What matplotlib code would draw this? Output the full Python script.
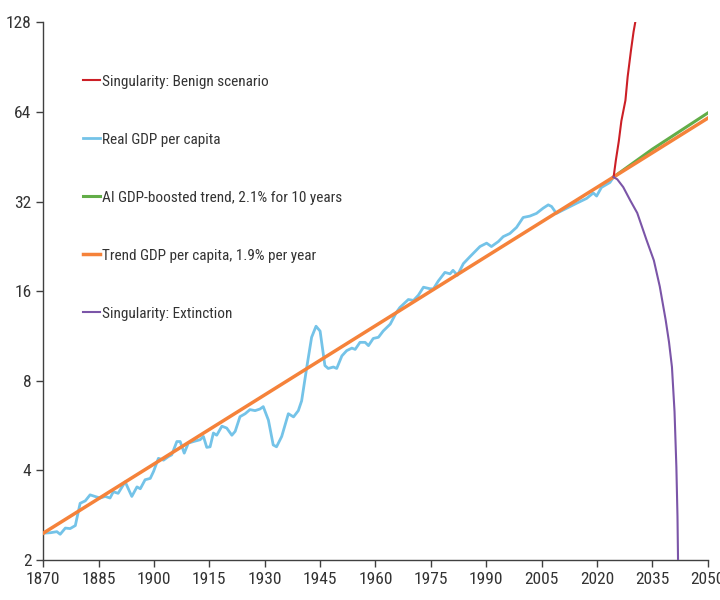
import matplotlib
matplotlib.use('Agg')
import matplotlib.pyplot as plt
from matplotlib.ticker import FixedLocator, NullLocator

plt.rcParams['font.family'] = ['Roboto Condensed', 'Liberation Sans', 'DejaVu Sans']

# Real GDP per capita
real_years = [1870, 1872, 1873.7, 1874.6, 1876, 1877.3, 1878.7, 1880, 1881.4, 1882.7,
              1884, 1885.4, 1886.8, 1888.1, 1889, 1890.3, 1892.2, 1894, 1895.4, 1896.3,
              1897.6, 1899, 1899.9, 1901.2, 1902.6, 1903.9, 1904.8, 1906.2, 1907.1, 1908.2,
              1909.3, 1910.7, 1912.5, 1913.4, 1914.3, 1915.2, 1916.1, 1917, 1918.4, 1919.7,
              1921.1, 1922, 1923.3, 1924.7, 1926, 1927.4, 1928.7, 1929.6, 1931, 1932.3,
              1933.2, 1934.6, 1936.4, 1937.8, 1939.1, 1940, 1941.4, 1942.7, 1943.9, 1945,
              1946.3, 1947.2, 1948.6, 1949.5, 1950.9, 1952.2, 1953.6, 1954.5, 1955.8, 1957.2,
              1958.1, 1959.4, 1960.8, 1962.1, 1964, 1965.7, 1966.6, 1968.9, 1970.3, 1971.6,
              1973, 1974.8, 1975.7, 1977, 1978.8, 1980.2, 1981, 1982.2, 1983.8, 1985.6,
              1988.3, 1990.1, 1991.4, 1993.3, 1994.6, 1996.4, 1998.2, 2000, 2001.8, 2003.6,
              2005.4, 2006.8, 2007.7, 2009, 2011.8, 2014.5, 2017.2, 2019, 2019.9, 2021.2,
              2023.5, 2024.5]
real_gdp = [2.46, 2.47, 2.49, 2.44, 2.56, 2.55, 2.61, 3.1, 3.16, 3.31,
            3.27, 3.23, 3.27, 3.23, 3.39, 3.35, 3.66, 3.27, 3.52, 3.47,
            3.72, 3.76, 3.97, 4.39, 4.33, 4.45, 4.51, 5.0, 5.0, 4.57,
            4.94, 5.0, 5.07, 5.2, 4.78, 4.8, 5.34, 5.25, 5.63, 5.55,
            5.25, 5.41, 6.06, 6.2, 6.4, 6.35, 6.43, 6.55, 5.9, 4.87,
            4.8, 5.2, 6.2, 6.05, 6.35, 6.85, 8.9, 11.2, 12.2, 11.75,
            9.0, 8.8, 8.9, 8.8, 9.7, 10.1, 10.3, 10.2, 10.77, 10.77,
            10.5, 11.1, 11.2, 11.76, 12.4, 13.6, 14.1, 15.0, 14.9, 15.5,
            16.5, 16.3, 16.3, 17.3, 18.5, 18.3, 18.8, 18.1, 19.8, 20.9,
            22.6, 23.2, 22.6, 23.5, 24.4, 25.0, 26.2, 28.3, 28.6, 29.2,
            30.4, 31.2, 30.8, 29.2, 30.4, 31.6, 32.8, 34.2, 33.4, 35.7,
            37.1, 38.7]

# Trend GDP per capita, 1.9% per year
trend_years = [1870, 2050]
trend_gdp = [2.46, 61.0]

# AI GDP-boosted trend
ai_years = [2024.5, 2035, 2050]
ai_gdp = [38.7, 48.0, 63.5]

# Singularity: benign
benign_years = [2024.5, 2025.1, 2025.9, 2026.6, 2027.7, 2028.3, 2029.2, 2029.9, 2030.5]
benign_gdp = [38.7, 44.0, 51.0, 59.7, 70.0, 84.0, 103.0, 119.0, 131.0]

# Singularity: extinction
ext_years = [2024.5, 2025.5, 2027.1, 2029, 2030.9, 2033.4, 2035.4, 2037.0, 2038.6,
             2039.5, 2040.3, 2041.0, 2041.5, 2041.8, 2041.95, 2042.0]
ext_gdp = [38.7, 38.0, 35.8, 32.3, 29.3, 23.8, 20.3, 16.6, 12.8,
           10.8, 8.9, 6.3, 4.1, 2.8, 2.0, 1.5]

xticks = list(range(1870, 2051, 15))
yticks = [2, 4, 8, 16, 32, 64, 128]

fig = plt.figure(figsize=(7.2, 6), dpi=100)
ax = fig.add_axes([0.06, 0.0667, 0.923, 0.896])

l_blue, = ax.plot(real_years, real_gdp, color='#74c3e8', lw=2.0, zorder=2)
l_green, = ax.plot(ai_years, ai_gdp, color='#62ad48', lw=2.2, zorder=3)
l_orange, = ax.plot(trend_years, trend_gdp, color='#f5823a', lw=2.5, zorder=4)
l_red, = ax.plot(benign_years, benign_gdp, color='#cc1f26', lw=1.5, zorder=5)
l_purple, = ax.plot(ext_years, ext_gdp, color='#7b55a8', lw=1.5, zorder=5)

ax.set_yscale('log', base=2)
ax.set_ylim(2, 128)
ax.set_xlim(1870, 2050)
ax.yaxis.set_major_locator(FixedLocator(yticks))
ax.yaxis.set_minor_locator(NullLocator())
ax.set_yticklabels([str(v) for v in yticks])
ax.set_xticks(xticks)

for s in ['top', 'right']:
    ax.spines[s].set_visible(False)
for s in ['left', 'bottom']:
    ax.spines[s].set_color('#404040')
    ax.spines[s].set_linewidth(1.0)
ax.tick_params(axis='both', colors='#404040', labelcolor='#333333', labelsize=12.5, length=5, width=1)

leg = ax.legend([l_red, l_blue, l_green, l_orange, l_purple],
                ['Singularity: Benign scenario', 'Real GDP per capita',
                 'AI GDP-boosted trend, 2.1% for 10 years',
                 'Trend GDP per capita, 1.9% per year', 'Singularity: Extinction'],
                loc='upper left', bbox_to_anchor=(0.039, 0.928), frameon=False,
                fontsize=11, handlelength=1.15, handletextpad=0.1, labelspacing=2.88)
for t in leg.get_texts():
    t.set_color('#333333')

plt.savefig('out.png', dpi=100)
